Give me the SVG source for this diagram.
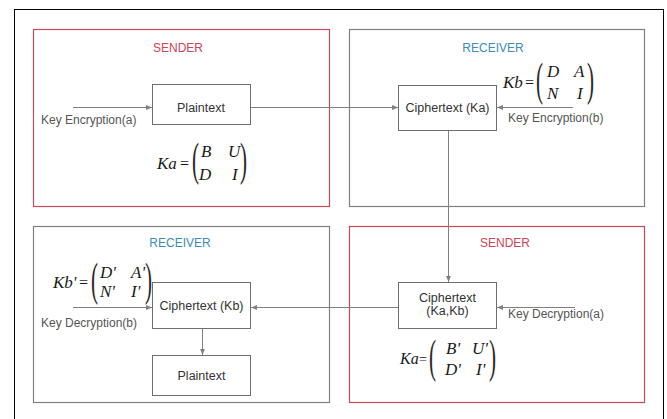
<svg xmlns="http://www.w3.org/2000/svg" width="667" height="419" viewBox="0 0 667 419">
  <style>
    .frame { fill: #ffffff; stroke: #000000; stroke-width: 1; }
    .red { fill: none; stroke: #c84a5a; stroke-width: 1.2; }
    .grey { fill: none; stroke: #808080; stroke-width: 1.2; }
    .box { fill: #ffffff; stroke: #6e6e6e; stroke-width: 1; }
    .lbl { font-family: "Liberation Sans", Arial, sans-serif; font-size: 12.5px; fill: #333333; text-anchor: middle; }
    .side { font-family: "Liberation Sans", Arial, sans-serif; font-size: 12px; fill: #555555; }
    .ttl-red { font-family: "Liberation Sans", Arial, sans-serif; font-size: 12px; fill: #d04455; text-anchor: middle; }
    .ttl-blue { font-family: "Liberation Sans", Arial, sans-serif; font-size: 12px; fill: #3b8cb8; text-anchor: middle; }
    .m { font-family: "Liberation Serif", "Times New Roman", serif; font-style: italic; font-size: 17px; fill: #1a1a1a; }
    .eq { font-family: "Liberation Serif", "Times New Roman", serif; font-size: 16px; fill: #1a1a1a; }
    .par { font-family: "Liberation Serif", "Times New Roman", serif; font-size: 47px; fill: #2a2a2a; }
    .conn { fill: none; stroke: #808080; stroke-width: 1; }
  </style>
  <defs>
    <marker id="arr" viewBox="0 0 10 10" refX="10" refY="5" markerWidth="6" markerHeight="6" orient="auto" markerUnits="userSpaceOnUse">
      <path d="M0,1 L10,5 L0,9 z" fill="#808080"/>
    </marker>
  </defs>

  <rect width="667" height="419" fill="#ffffff"/>
  <rect class="frame" x="14.5" y="9.5" width="649" height="430"/>

  <!-- party panels -->
  <g id="sender-top">
    <rect class="red" x="33.5" y="29.5" width="296" height="177"/>
    <text class="ttl-red" x="178" y="52">SENDER</text>
  </g>
  <g id="receiver-top">
    <rect class="grey" x="349.5" y="29.5" width="295" height="177"/>
    <text class="ttl-blue" x="493" y="52">RECEIVER</text>
  </g>
  <g id="receiver-bottom">
    <rect class="grey" x="33.5" y="226.5" width="296" height="176"/>
    <text class="ttl-blue" x="180" y="247">RECEIVER</text>
  </g>
  <g id="sender-bottom">
    <rect class="red" x="349.5" y="226.5" width="295" height="176"/>
    <text class="ttl-red" x="505" y="247">SENDER</text>
  </g>

  <!-- connectors -->
  <g id="connectors">
    <line class="conn" x1="73" y1="107.5" x2="152" y2="107.5" marker-end="url(#arr)"/>
    <line class="conn" x1="251" y1="107.5" x2="398" y2="107.5" marker-end="url(#arr)"/>
    <line class="conn" x1="573" y1="107.5" x2="497" y2="107.5" marker-end="url(#arr)"/>
    <line class="conn" x1="448.5" y1="131" x2="448.5" y2="282" marker-end="url(#arr)"/>
    <line class="conn" x1="575" y1="307.5" x2="497" y2="307.5" marker-end="url(#arr)"/>
    <line class="conn" x1="398" y1="307.5" x2="251" y2="307.5" marker-end="url(#arr)"/>
    <line class="conn" x1="73" y1="307.5" x2="152" y2="307.5" marker-end="url(#arr)"/>
    <line class="conn" x1="202.5" y1="329" x2="202.5" y2="355" marker-end="url(#arr)"/>
  </g>

  <!-- nodes -->
  <g id="plaintext-a">
    <rect class="box" x="152.5" y="84.5" width="98" height="40"/>
    <text class="lbl" x="201" y="112">Plaintext</text>
  </g>
  <g id="ciphertext-ka">
    <rect class="box" x="398.5" y="85.5" width="98" height="45"/>
    <text class="lbl" x="447.5" y="112">Ciphertext (Ka)</text>
  </g>
  <g id="ciphertext-kakb">
    <rect class="box" x="398.5" y="282.5" width="98" height="46"/>
    <text class="lbl" x="447.5" y="302">Ciphertext</text>
    <text class="lbl" x="447.5" y="315">(Ka,Kb)</text>
  </g>
  <g id="ciphertext-kb">
    <rect class="box" x="152.5" y="282.5" width="98" height="46"/>
    <text class="lbl" x="201.5" y="310">Ciphertext (Kb)</text>
  </g>
  <g id="plaintext-b">
    <rect class="box" x="152.5" y="355.5" width="98" height="40"/>
    <text class="lbl" x="201.5" y="380">Plaintext</text>
  </g>

  <!-- side labels -->
  <g id="key-labels">
    <text class="side" x="41" y="124">Key Encryption(a)</text>
    <text class="side" x="508" y="122">Key Encryption(b)</text>
    <text class="side" x="508" y="318">Key Decryption(a)</text>
    <text class="side" x="41" y="327">Key Decryption(b)</text>
  </g>

  <!-- key matrices -->
  <g id="matrix-ka">
    <text class="m" x="157" y="169">Ka</text>
    <text class="eq" x="180" y="169">=</text>
    <text class="par" transform="translate(192,174.5) scale(0.45,1)">(</text>
    <text class="m" x="201" y="157">B</text>
    <text class="m" x="228" y="157">U</text>
    <text class="m" x="199" y="180">D</text>
    <text class="m" x="232" y="180">I</text>
    <text class="par" transform="translate(240,174.5) scale(0.45,1)">)</text>
  </g>
  <g id="matrix-kb">
    <text class="m" x="503" y="88">Kb</text>
    <text class="eq" x="525" y="88">=</text>
    <text class="par" transform="translate(536,94.5) scale(0.45,1)">(</text>
    <text class="m" x="547" y="77">D</text>
    <text class="m" x="574" y="77">A</text>
    <text class="m" x="547" y="99">N</text>
    <text class="m" x="577" y="99">I</text>
    <text class="par" transform="translate(587,94.5) scale(0.45,1)">)</text>
  </g>
  <g id="matrix-kb-inv">
    <text class="m" x="53" y="288">Kb'</text>
    <text class="eq" x="79" y="288">=</text>
    <text class="par" transform="translate(91,294.5) scale(0.45,1)">(</text>
    <text class="m" x="100" y="278">D'</text>
    <text class="m" x="131" y="278">A'</text>
    <text class="m" x="100" y="297">N'</text>
    <text class="m" x="131" y="297">I'</text>
    <text class="par" transform="translate(145,294.5) scale(0.45,1)">)</text>
  </g>
  <g id="matrix-ka-inv">
    <text class="m" x="400" y="364" style="font-size:16px">Ka</text>
    <text class="eq" x="419" y="364" style="font-size:14px">=</text>
    <text class="par" transform="translate(429,371.5) scale(0.45,1)">(</text>
    <text class="m" x="446" y="354">B'</text>
    <text class="m" x="472" y="354">U'</text>
    <text class="m" x="445" y="375">D'</text>
    <text class="m" x="476" y="375">I'</text>
    <text class="par" transform="translate(489,371.5) scale(0.45,1)">)</text>
  </g>
</svg>
